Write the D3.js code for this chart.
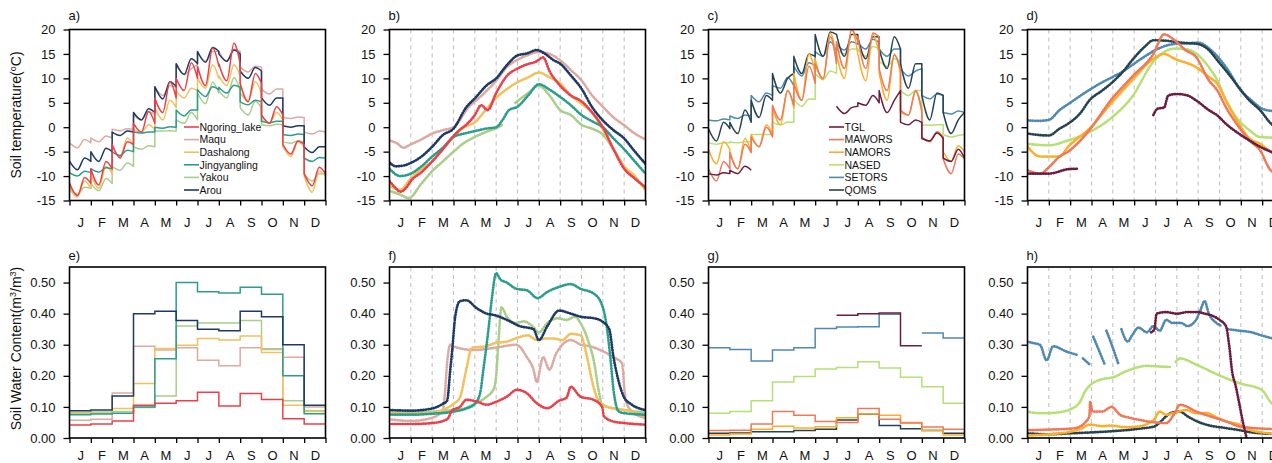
<!DOCTYPE html>
<html>
<head>
<meta charset="utf-8">
<script src="https://cdn.jsdelivr.net/npm/d3@7"></script>
<style>
  body { margin: 0; background: #fff; }
  svg { display: block; font-family: "Liberation Sans", Arial, sans-serif; }
</style>
</head>
<body>
<div id="chart"></div>
<script>
// ---- categories / ticks ----
var months = ['J', 'F', 'M', 'A', 'M', 'J', 'J', 'A', 'S', 'O', 'N', 'D'];
var tempTicks = [-15, -10, -5, 0, 5, 10, 15, 20];
var swcTicks = [0, 0.1, 0.2, 0.3, 0.4, 0.5];
var cycleHours = [0, 9, 17, 24];   // hours of the mean diurnal cycle: start, min, max, end

var sites1 = ['Ngoring_lake', 'Maqu', 'Dashalong', 'Jingyangling', 'Yakou', 'Arou'];
var colors1 = ['#e8414c', '#dcaaa2', '#f0c15c', '#2b9d8b', '#a9cd8b', '#1e3a62'];
var sites2 = ['TGL', 'MAWORS', 'NAMORS', 'NASED', 'SETORS', 'QOMS'];
var colors2 = ['#6b1d3f', '#ee7857', '#fdae28', '#b6df74', '#4f89b1', '#26434f'];

// ---- a) monthly mean diurnal soil temperature [start, min, max] ----
var ngoringA = [[-11.5,-14,-10.3],[-8.5,-11.8,-7],[-3.5,-6.3,-3],[0.8,-1,3.2],[6,3,9.3],[10,7.5,13.2],[12.5,8.5,16.2],[13,9.5,17.2],[9,5.2,11],[2.5,0.8,4.2],[-3.5,-5.5,-2.8],[-9.5,-12,-8.2]];
var maquA = [[-3.2,-4.2,-2.5],[-2.2,-3,-1.8],[-0.4,-0.7,-0.3],[2.5,1.5,3.2],[8.2,6.5,8.5],[12.8,10.8,12],[15.5,13.5,15.5],[15.5,13.5,16],[12.3,11.3,12.5],[7.8,6.8,7.8],[2,1.8,2.1],[-1,-1.4,-0.8]];
var dashalongA = [[-12.5,-14.3,-11],[-9.5,-12.5,-8],[-4,-6,-2.2],[-0.5,-1,0.5],[4,1.5,5.5],[7.5,6,8],[10,8,12.8],[10.5,8.5,12.8],[7,5.5,9.3],[1.5,0.8,3],[-4,-6,-3],[-10,-13.3,-9]];
var jingA = [[-9.3,-10,-9],[-8.5,-9.2,-8.3],[-5,-5.8,-4.7],[-1,-1.2,-1],[0,-0.2,0.1],[3.5,2.3,3.5],[7.7,6.3,8.3],[8.2,7,8.6],[5.2,4.6,5.5],[1.2,0.9,1.2],[-1.5,-1.7,-1.4],[-6.3,-7,-6.2]];
var yakouA = [[-12.5,-13.7,-12.3],[-11.5,-13,-10.5],[-8,-8.8,-7.3],[-4,-4.5,-3.8],[-0.8,-0.8,-0.7],[1.5,0.8,3],[7,4.8,9.2],[7.5,6,10.2],[4,2.5,5.3],[0.5,0.3,0.6],[-3,-3.3,-2.8],[-9.5,-11,-9.5]];
var arouA = [[-7,-8.7,-6.3],[-5,-7,-4.3],[-1,-1.7,-0.8],[3,1.5,3.8],[8.3,5.8,9.3],[13,10.8,14],[15.5,13.3,16.3],[15,13.5,15.8],[11.5,10,12.2],[6,4.5,6],[0.3,0,0.3],[-4,-5.2,-4]];

// ---- c) monthly mean diurnal soil temperature [start, min, max] ----
var tglC = [[-9.5,-9.8,-9.3],[-8.8,-9.5,-8],null,null,null,null,[4.3,2.8,4],[5,4.5,6.5],[7.5,3,5.5],[1,0.5,1.5],[-2.3,-2.8,-1.2],[-6.3,-7,-4.5]];
var mawC = [[-8.5,-11,-7],[-5.2,-8.5,-3.5],[-2,-4,0],[4.5,1.5,7.5],[9,5.5,12.5],[13,10,18.5],[17.5,12,20],[18.5,12,19.3],[12,7.5,14.8],[3.5,2.5,7.5],[-2,-3,-1],[-6.5,-9.5,-5.5]];
var namC = [[-4.5,-7.5,-3],[-5,-8.5,-2.3],[-1.5,-4,0.5],[4,0.5,7.5],[11,5.5,15],[14,9.7,19.3],[15,10,20],[15,9.5,19],[11,5.5,15],[3,2.5,7.3],[-2,-2.8,-1],[-5,-7,-3.8]];
var nasedC = [[-3.2,-3.5,-3.2],[-3,-3.2,-3],[-1.5,-1.5,-1.5],[1,0.5,1],[5.7,4.3,5.8],[11,9.8,11.5],[16,15,16],[16,14.5,16.5],[13.5,12.5,14],[7.5,6.5,7.5],[0.5,0.4,0.5],[-1.5,-2,-1.7]];
var setC = [[1.5,1.3,1.7],[2.3,1.8,2.5],[6.5,5.2,7],[8.5,8,10.2],[12.5,10.5,13.2],[15.5,14.5,17.5],[17,15.8,17.5],[17.3,16,18],[16,14.5,16],[12,10.5,11.5],[6.5,5.8,6.8],[3,2.7,3.3]];
var qomsC = [[-0.3,-2.8,1],[1,-1.3,3.5],[5.5,2,6.5],[11,7,10],[14.5,11,15],[19,14.5,19.5],[19,14.5,19],[18.5,14,18.5],[16,12,18.5],[13,8,13],[6.5,1.5,7],[3,-1.3,1.5]];

// ---- b) daily soil temperature [month position, value] ----
var ngoringB = [[0,-11],[0.3,-12.5],[0.5,-13.2],[0.8,-12.3],[1,-11],[1.5,-9.2],[2,-7],[2.5,-4.5],[3,-1.8],[3.3,-0.5],[3.6,0.5],[4,2.5],[4.3,4.5],[4.6,3.5],[5,7],[5.5,10.5],[6,12],[6.4,12.8],[6.9,13.5],[7.2,14.3],[7.5,11.5],[8,8.5],[8.5,6.5],[9,5.3],[9.5,3],[10,0],[10.5,-4.5],[11,-8.5],[11.5,-10.5],[12,-12.3]];
var maquB = [[0,-2.7],[0.35,-3.3],[0.65,-4.2],[1,-3.5],[1.5,-2.5],[2,-1.3],[2.5,-0.6],[3,0],[3.3,1.5],[3.6,3.5],[4.25,6.2],[5,9.5],[5.5,12.3],[6,13.8],[6.44,14.7],[7,15.4],[7.5,15],[8,13.7],[8.5,11.7],[9,9.6],[9.5,6.5],[10,4.2],[10.5,2],[11,0.4],[11.4,-1],[12,-2.5]];
var dashalongB = [[0,-12],[0.5,-12.8],[1,-10.5],[1.5,-8.5],[2,-7],[2.5,-4.5],[3,-2],[3.5,0],[4,1],[4.5,3.5],[5,6],[5.5,7.8],[6,9.2],[6.5,10.2],[7,11.2],[7.5,10.2],[8,9],[8.5,6.5],[9,4.8],[9.5,3],[10,-0.5],[10.5,-4.5],[11,-8],[11.5,-10],[12,-13]];
var jingB = [[0,-8.5],[0.5,-10],[1,-9.5],[1.5,-8],[2,-6],[2.5,-4.2],[3,-2],[3.5,-1.3],[4,-0.8],[4.5,-0.3],[5,0],[5.3,1.5],[5.6,3.5],[6,4.2],[6.5,6.5],[7,8.8],[7.5,7.7],[8,6.2],[8.5,4.5],[9,2.5],[9.5,1.2],[10,0],[10.5,-2.3],[11,-4.5],[11.5,-7],[12,-9.5]];
var yakouB = [[0,-13],[0.5,-13.8],[0.9,-14.5],[1.5,-11.5],[2,-9],[2.5,-7],[3,-5],[3.5,-3.2],[4,-2],[4.5,-1],[5,-0.2],[5.3,0.5],[5.35,null],[5.9,5],[6.5,7],[7,8.5],[7.5,6.5],[8,3.5],[8.5,2.5],[9,0.5],[9.5,-0.3],[10,-1.5],[10.5,-4.5],[11,-8],[11.5,-10.5],[12,-12.3]];
var arouB = [[0,-7.2],[0.3,-8],[0.7,-7.8],[1,-7.3],[1.5,-6],[2,-4],[2.5,-1.6],[3,-0.3],[3.6,4.1],[4,5.9],[4.56,8.6],[5,10],[5.5,12.7],[6,14.7],[6.44,15.1],[6.9,15.8],[7.3,15],[7.7,13.7],[8,13],[8.5,10.6],[9,7.9],[9.5,4.1],[10,1.4],[10.5,-0.6],[11,-2.3],[11.45,-4.7],[12,-7.5]];

// ---- d) daily soil temperature [month position, value] ----
var tglD = [[0,-9.5],[1,-9.5],[1.9,-8.6],[2.35,-8.5],[2.4,null],[5.9,2.5],[6.1,3.8],[6.4,4],[6.6,6.5],[7,6.8],[7.5,6.5],[7.9,5.5],[8.5,3.5],[8.9,2.4],[9.3,0.7],[9.9,-1.3],[10.4,-2.7],[10.9,-4],[11.4,-5],[12,-6]];
var mawD = [[0,-8.8],[0.6,-9.5],[1,-8.2],[1.5,-6],[1.9,-5],[2.9,-0.6],[3.9,5.5],[4.9,10.3],[5.9,15],[6.4,19],[6.9,17.8],[7.4,15.8],[7.9,14.4],[8.5,9.6],[8.9,7.5],[9.3,4.1],[9.9,0.1],[10.4,-2.7],[10.9,-4.7],[11.4,-8.8],[12,-10]];
var namD = [[0,-4],[0.6,-6],[1,-6],[1.5,-6],[1.9,-4],[2.9,-0.3],[3.9,4.8],[4.9,9.6],[5.9,14],[6.4,15],[6.9,14],[7.9,12.3],[8.5,10.3],[8.9,8.9],[9.3,5.5],[9.9,0.8],[10.4,-2.3],[10.9,-3.4],[11.4,-5],[12,-6]];
var nasedD = [[0,-3.4],[1,-3.7],[1.9,-2.7],[2.9,-1],[3.9,1.8],[4.9,6.2],[5.9,13.4],[6.9,16.1],[7.4,16],[7.9,15.1],[8.5,12.3],[8.9,9.6],[9.3,5.5],[9.9,1.4],[10.4,-0.6],[10.9,-2],[12,-2.2]];
var setD = [[0,1.4],[0.5,1.3],[1,1.5],[1.5,3.5],[2,5],[2.5,6.5],[3,7.9],[3.5,9.2],[4,10.3],[4.5,11.5],[5,13],[5.5,14.5],[6,15.8],[6.3,16.4],[7,17.1],[7.5,17.2],[8,17.3],[8.6,15.8],[9,14],[9.4,11.7],[10,7.5],[10.5,5.5],[11,3.8],[11.5,3.3],[12,3.2]];
var qomsD = [[0,-1.3],[1,-1.7],[1.5,-0.3],[1.9,0.7],[2.5,3],[2.9,5.5],[3.5,7.5],[3.9,8.9],[4.5,11.5],[4.9,13.7],[5.5,16.5],[5.9,17.8],[6.5,17.7],[6.9,17.5],[7.5,17.2],[7.9,17.1],[8.5,15.8],[8.9,13.7],[9.5,10.5],[9.9,8.2],[10.4,5.5],[10.9,3.5],[11.4,0.8],[12,-1]];

// ---- e) monthly soil water content ----
var ngoringE = [0.042,0.045,0.055,0.105,0.112,0.12,0.147,0.103,0.143,0.124,0.062,0.045];
var maquE = [0.057,0.06,0.145,0.295,0.283,0.29,0.25,0.232,0.29,0.287,0.26,0.1];
var dashalongE = [0.078,0.08,0.095,0.175,0.288,0.298,0.32,0.315,0.328,0.275,0.105,0.085];
var jingE = [0.075,0.077,0.08,0.1,0.255,0.5,0.47,0.466,0.485,0.462,0.2,0.078];
var yakouE = [0.082,0.084,0.085,0.098,0.135,0.36,0.37,0.37,0.378,0.285,0.12,0.088];
var arouE = [0.088,0.09,0.135,0.4,0.408,0.378,0.35,0.345,0.408,0.39,0.3,0.105];

// ---- g) monthly soil water content ----
var tglG = [null,null,null,null,null,null,0.395,0.4,0.402,0.297,null,null];
var mawG = [0.024,0.025,0.045,0.085,0.073,0.053,0.05,0.095,0.06,0.048,0.035,0.028];
var namG = [0.01,0.013,0.028,0.038,0.032,0.036,0.065,0.077,0.073,0.05,0.025,0.01];
var nasedG = [0.08,0.085,0.12,0.18,0.198,0.222,0.227,0.245,0.225,0.195,0.165,0.112];
var setG = [0.29,0.285,0.248,0.283,0.29,0.352,0.357,0.358,0.398,null,0.338,0.322];
var qomsG = [0.015,0.016,0.02,0.02,0.024,0.028,0.058,0.076,0.04,0.03,0.024,0.015];

// ---- f) daily soil water content [month position, value] ----
var ngoringF = [[0,0.045],[1,0.045],[2,0.048],[2.7,0.06],[2.95,0.09],[3.3,0.1],[3.6,0.123],[4.1,0.117],[4.56,0.107],[4.94,0.115],[5.5,0.133],[5.97,0.155],[6.44,0.144],[6.9,0.112],[7.4,0.096],[7.95,0.12],[8.3,0.13],[8.5,0.165],[8.95,0.133],[9.56,0.123],[9.97,0.1],[10.05,0.07],[10.5,0.053],[11,0.048],[12,0.043]];
var maquF = [[0,0.06],[1,0.055],[2,0.065],[2.5,0.09],[2.6,0.145],[2.7,0.24],[2.85,0.3],[3,0.295],[3.94,0.283],[4.94,0.29],[5.94,0.3],[6.44,0.26],[6.75,0.22],[6.9,0.18],[7.2,0.26],[7.5,0.22],[7.8,0.27],[8.5,0.315],[8.97,0.3],[9.4,0.295],[9.97,0.28],[10.5,0.26],[10.9,0.24],[11.05,0.13],[11.3,0.09],[12,0.064]];
var dashalongF = [[0,0.08],[1,0.078],[2,0.08],[2.5,0.09],[3,0.11],[3.3,0.13],[3.6,0.22],[3.86,0.29],[4.5,0.295],[4.94,0.305],[5.5,0.31],[6.1,0.325],[6.5,0.33],[6.9,0.315],[7.3,0.32],[7.7,0.32],[8.1,0.315],[8.5,0.335],[8.97,0.33],[9.26,0.26],[9.56,0.165],[9.9,0.11],[10.5,0.095],[11,0.09],[12,0.07]];
var jingF = [[0,0.075],[1,0.075],[2,0.078],[3,0.085],[3.6,0.095],[4,0.11],[4.25,0.145],[4.4,0.22],[4.64,0.35],[4.8,0.45],[5,0.53],[5.2,0.51],[5.5,0.5],[5.94,0.48],[6.44,0.475],[6.94,0.45],[7.4,0.47],[7.95,0.486],[8.5,0.495],[8.95,0.48],[9.56,0.465],[9.95,0.43],[10.2,0.35],[10.35,0.26],[10.5,0.155],[10.75,0.085],[11,0.08],[12,0.075]];
var yakouF = [[0,0.082],[1,0.082],[2,0.085],[3,0.09],[3.5,0.095],[4,0.11],[4.5,0.13],[4.9,0.16],[5,0.2],[5.1,0.3],[5.25,0.42],[5.5,0.39],[5.9,0.37],[6.3,0.375],[6.7,0.36],[7,0.34],[7.4,0.37],[7.9,0.385],[8.3,0.38],[8.7,0.39],[8.95,0.37],[9.3,0.315],[9.6,0.24],[9.8,0.155],[9.95,0.11],[10.5,0.095],[11,0.09],[12,0.082]];
var arouF = [[0,0.09],[1,0.088],[2,0.095],[2.5,0.11],[2.7,0.12],[2.85,0.22],[2.95,0.29],[3.08,0.39],[3.3,0.44],[3.6,0.443],[4.1,0.417],[4.56,0.4],[4.94,0.395],[5.5,0.38],[6.1,0.36],[6.75,0.35],[7,0.315],[7.4,0.36],[7.95,0.41],[8.5,0.4],[8.97,0.39],[9.6,0.385],[9.97,0.375],[10.3,0.35],[10.5,0.26],[10.75,0.18],[11,0.13],[11.3,0.11],[12,0.09]];

// ---- h) daily soil water content [month position, value] ----
var tglH = [[5.8,0.34],[5.95,0.35],[6.05,0.4],[6.5,0.405],[7,0.4],[7.5,0.405],[8,0.405],[8.3,0.4],[8.6,0.395],[9,0.38],[9.3,0.36],[9.45,0.3],[9.6,0.21],[9.75,0.17],[9.9,0.12],[10.1,0.05],[10.27,0]];
var mawH = [[0,0.025],[1,0.027],[2,0.03],[2.4,0.035],[2.7,0.05],[2.9,0.07],[2.94,0.117],[3.05,0.085],[3.5,0.085],[3.94,0.1],[4.33,0.075],[4.8,0.065],[5.27,0.058],[6,0.05],[6.5,0.048],[6.9,0.08],[7.14,0.107],[7.5,0.1],[7.76,0.09],[8.55,0.07],[9.33,0.053],[9.95,0.037],[11.4,0.029],[12,0.028]];
var namH = [[0,0.008],[1,0.012],[2,0.02],[2.5,0.03],[2.94,0.043],[3.5,0.038],[3.94,0.04],[4.5,0.035],[5.2,0.037],[5.6,0.045],[5.94,0.06],[6.2,0.085],[6.5,0.075],[6.83,0.08],[7.45,0.09],[7.9,0.08],[8.4,0.08],[8.9,0.065],[9.33,0.053],[9.95,0.043],[10.4,0.027],[11.4,0.014],[12,0.008]];
var nasedH = [[0,0.085],[0.5,0.08],[1,0.08],[1.5,0.083],[2,0.092],[2.45,0.115],[2.7,0.15],[2.94,0.17],[3.55,0.19],[4,0.195],[4.6,0.214],[5.2,0.228],[5.55,0.232],[6.2,0.23],[6.75,0.228],[6.8,null],[6.95,0.245],[7.14,0.256],[7.94,0.235],[8.94,0.203],[9.95,0.176],[10.97,0.155],[11.44,0.112],[12,0.09]];
var setH = [[0,0.31],[0.3,0.305],[0.58,0.3],[0.9,0.25],[1.2,0.295],[1.83,0.278],[2.3,0.268],[2.35,null],[2.6,0.256],[2.94,0.235],[3,null],[3.08,0.326],[3.3,0.29],[3.6,0.24],[3.65,null],[3.7,0.345],[4,0.29],[4.25,0.24],[4.3,null],[4.4,0.35],[4.7,0.31],[4.9,0.33],[5.2,0.355],[5.6,0.34],[5.9,0.36],[6.2,0.345],[6.5,0.38],[6.8,0.37],[7.2,0.37],[7.5,0.36],[7.9,0.38],[8.1,0.41],[8.3,0.44],[8.5,0.4],[8.86,0.37],[9.1,0.36],[9.2,null],[9.4,0.35],[9.95,0.345],[10.5,0.34],[10.97,0.33],[11.4,0.322],[12,0.315]];
var qomsH = [[0,0.015],[1,0.012],[2,0.015],[3,0.018],[4,0.022],[5,0.028],[5.5,0.032],[5.94,0.037],[6.2,0.05],[6.5,0.07],[6.7,0.08],[7.14,0.085],[7.5,0.07],[7.9,0.055],[8.55,0.04],[9.2,0.033],[9.95,0.025],[10.5,0.018],[11,0.015],[12,0.012]];

// drawing order (last drawn on top)
var order1 = [1, 4, 2, 3, 5, 0];
var order2 = [3, 4, 5, 2, 1, 0];

// ---- layout ----
var width = 1272, height = 463,
    panel_w = 256, panel_h = 171,
    lefts = [69.5, 389.5, 708.5, 1027.5],
    tops = [29.5, 267],
    label_pad = [17, 12.5],
    tag_gap = [10, 7];

var svg = d3.select('#chart').append('svg')
    .attr('width', width)
    .attr('height', height);

function makePanel(col, row, name, yDomain, yTicks, yFmt, dashedGrid) {
    var left = lefts[col], top = tops[row];
    var x = d3.scaleLinear().domain([0, 12]).range([left, left + panel_w]);
    var y = d3.scaleLinear().domain(yDomain).range([top + panel_h, top]);

    svg.append('clipPath').attr('id', 'clip-' + name)
        .append('rect')
        .attr('x', left).attr('y', top)
        .attr('width', panel_w).attr('height', panel_h);

    if (dashedGrid) {
        svg.append('g').selectAll('line')
            .data(d3.range(1, 12))
            .enter().append('line')
            .attr('x1', function(d) { return x(d); })
            .attr('x2', function(d) { return x(d); })
            .attr('y1', top)
            .attr('y2', top + panel_h)
            .attr('stroke', '#bdbdbd')
            .attr('stroke-width', 1)
            .attr('stroke-dasharray', '4,4');
    }

    var plot = svg.append('g').attr('clip-path', 'url(#clip-' + name + ')');

    // month boundary ticks
    var xTicks = svg.append('g')
        .attr('transform', 'translate(0,' + (top + panel_h) + ')')
        .call(d3.axisBottom(x).tickValues(d3.range(13)).tickSize(5).tickFormat(''));
    xTicks.select('.domain').remove();
    xTicks.selectAll('line').attr('stroke', '#000').attr('stroke-width', 1.3);

    // month letters in the middle of each month
    var xLabels = svg.append('g')
        .attr('transform', 'translate(0,' + (top + panel_h) + ')')
        .call(d3.axisBottom(x)
            .tickValues(months.map(function(m, i) { return i + 0.5; }))
            .tickSize(0)
            .tickPadding(label_pad[row])
            .tickFormat(function(d, i) { return months[i]; }));
    xLabels.select('.domain').remove();
    xLabels.selectAll('text')
        .attr('font-size', 13)
        .attr('font-family', '"Liberation Sans", Arial, sans-serif')
        .attr('fill', '#111');

    var yAxis = svg.append('g')
        .attr('transform', 'translate(' + left + ',0)')
        .call(d3.axisLeft(y).tickValues(yTicks).tickSize(6).tickPadding(8).tickFormat(yFmt));
    yAxis.select('.domain').remove();
    yAxis.selectAll('line').attr('stroke', '#000').attr('stroke-width', 1.3);
    yAxis.selectAll('text')
        .attr('font-size', 13)
        .attr('font-family', '"Liberation Sans", Arial, sans-serif')
        .attr('fill', '#111');

    svg.append('text')
        .attr('x', left - 1)
        .attr('y', top - tag_gap[row])
        .attr('font-size', 13)
        .attr('fill', '#111')
        .text(name + ')');

    return { x: x, y: y, plot: plot, left: left, top: top };
}

function drawFrame(p) {
    svg.append('rect')
        .attr('x', p.left).attr('y', p.top)
        .attr('width', panel_w).attr('height', panel_h)
        .attr('fill', 'none')
        .attr('stroke', '#000')
        .attr('stroke-width', 1.6);
}

// join month segments into one path, vertical jump at month edges
function joinSegments(line, segs) {
    var d = '', prev = false;
    segs.forEach(function(s) {
        if (!s) { prev = false; return; }
        var part = line(s);
        d += prev ? 'L' + part.slice(1) : part;
        prev = true;
    });
    return d;
}

function cycleSegments(series) {
    return series.map(function(m, i) {
        if (!m) return null;
        var vals = [m[0], m[1], m[2], m[0]];
        return cycleHours.map(function(h, k) { return [i + h / 24, vals[k]]; });
    });
}

function stepSegments(series) {
    return series.map(function(v, i) {
        return v == null ? null : [[i, v], [i + 1, v]];
    });
}

function drawCycles(p, list, colors, order) {
    var line = d3.line()
        .x(function(d) { return p.x(d[0]); })
        .y(function(d) { return p.y(d[1]); })
        .curve(d3.curveMonotoneX);
    order.forEach(function(k) {
        p.plot.append('path')
            .attr('d', joinSegments(line, cycleSegments(list[k])))
            .attr('fill', 'none')
            .attr('stroke', colors[k])
            .attr('stroke-width', 1.5)
            .attr('stroke-linejoin', 'round');
    });
}

function drawSteps(p, list, colors, order) {
    var line = d3.line()
        .x(function(d) { return p.x(d[0]); })
        .y(function(d) { return p.y(d[1]); });
    order.forEach(function(k) {
        p.plot.append('path')
            .attr('d', joinSegments(line, stepSegments(list[k])))
            .attr('fill', 'none')
            .attr('stroke', colors[k])
            .attr('stroke-width', 1.5);
    });
}

function drawDaily(p, list, colors, order) {
    var line = d3.line()
        .defined(function(d) { return d[1] != null; })
        .x(function(d) { return p.x(d[0]); })
        .y(function(d) { return p.y(d[1]); })
        .curve(d3.curveMonotoneX);
    order.forEach(function(k) {
        p.plot.append('path')
            .attr('d', line(list[k]))
            .attr('fill', 'none')
            .attr('stroke', colors[k])
            .attr('stroke-width', 2.7)
            .attr('stroke-linecap', 'round')
            .attr('stroke-dasharray', '0.5,2.1');
    });
}

function drawLegend(p, names, colors, x0, y0) {
    var lg = svg.append('g');
    names.forEach(function(n, i) {
        var yy = y0 + i * 12.6;
        lg.append('line')
            .attr('x1', x0).attr('x2', x0 + 15)
            .attr('y1', yy).attr('y2', yy)
            .attr('stroke', colors[i]).attr('stroke-width', 1.6);
        lg.append('text')
            .attr('x', x0 + 15.5).attr('y', yy)
            .attr('dy', '0.36em')
            .attr('font-size', 10.5)
            .attr('fill', '#111')
            .text(n);
    });
}

var tFmt = function(d) { return String(d); };
var sFmt = d3.format('.2f');

// ---- top row: soil temperature ----
var pa = makePanel(0, 0, 'a', [-15, 20], tempTicks, tFmt, false);
drawCycles(pa, [ngoringA, maquA, dashalongA, jingA, yakouA, arouA], colors1, order1);
drawFrame(pa);
drawLegend(pa, sites1, colors1, 184, 127);

var pb = makePanel(1, 0, 'b', [-15, 20], tempTicks, tFmt, true);
drawDaily(pb, [ngoringB, maquB, dashalongB, jingB, yakouB, arouB], colors1, order1);
drawFrame(pb);

var pc = makePanel(2, 0, 'c', [-15, 20], tempTicks, tFmt, false);
drawCycles(pc, [tglC, mawC, namC, nasedC, setC, qomsC], colors2, order2);
drawFrame(pc);
drawLegend(pc, sites2, colors2, 829, 127);

var pd = makePanel(3, 0, 'd', [-15, 20], tempTicks, tFmt, true);
drawDaily(pd, [tglD, mawD, namD, nasedD, setD, qomsD], colors2, order2);
drawFrame(pd);

// ---- bottom row: soil water content ----
var pe = makePanel(0, 1, 'e', [0, 0.55], swcTicks, sFmt, false);
drawSteps(pe, [ngoringE, maquE, dashalongE, jingE, yakouE, arouE], colors1, order1);
drawFrame(pe);

var pf = makePanel(1, 1, 'f', [0, 0.55], swcTicks, sFmt, true);
drawDaily(pf, [ngoringF, maquF, dashalongF, jingF, yakouF, arouF], colors1, order1);
drawFrame(pf);

var pg = makePanel(2, 1, 'g', [0, 0.55], swcTicks, sFmt, false);
drawSteps(pg, [tglG, mawG, namG, nasedG, setG, qomsG], colors2, order2);
drawFrame(pg);

var ph = makePanel(3, 1, 'h', [0, 0.55], swcTicks, sFmt, true);
drawDaily(ph, [tglH, mawH, namH, nasedH, setH, qomsH], colors2, order2);
drawFrame(ph);

// ---- y titles ----
var t1 = svg.append('text')
    .attr('transform', 'translate(21,' + (tops[0] + panel_h / 2) + ') rotate(-90)')
    .attr('text-anchor', 'middle')
    .attr('font-size', 14)
    .attr('fill', '#111');
t1.append('tspan').text('Soil temperature(');
t1.append('tspan').attr('font-size', 9).attr('dy', -5).text('o');
t1.append('tspan').attr('dy', 5).text('C)');

var t2 = svg.append('text')
    .attr('transform', 'translate(21,' + (tops[1] + panel_h / 2 - 4) + ') rotate(-90)')
    .attr('text-anchor', 'middle')
    .attr('font-size', 14)
    .attr('fill', '#111');
t2.append('tspan').text('Soil Water Content(m');
t2.append('tspan').attr('font-size', 9).attr('dy', -5).text('3');
t2.append('tspan').attr('dy', 5).text('/m');
t2.append('tspan').attr('font-size', 9).attr('dy', -5).text('3');
t2.append('tspan').attr('dy', 5).text(')');
</script>
</body>
</html>
